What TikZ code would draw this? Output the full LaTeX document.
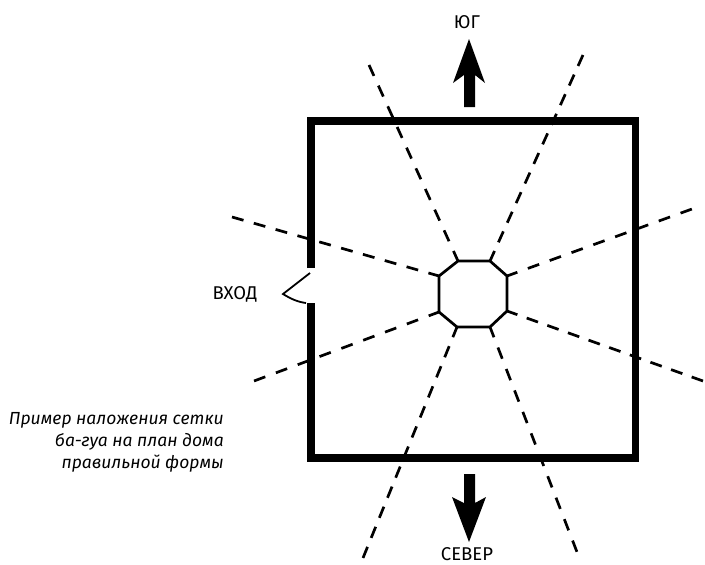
\documentclass[tikz,border=0pt]{standalone}
\usepackage{fontspec}
\setmainfont{Fira Sans}
\tikzset{
  wall/.style={line width=7.5pt},
  ray/.style={line width=2.7pt,dash phase=1pt},
  pointer/.style={fill=black,draw=none},
  label text/.style={font=\fontsize{18.5}{22}\selectfont,inner sep=0pt,anchor=base},
}
\begin{document}
\begin{tikzpicture}[x=1pt,y=-1pt]
\useasboundingbox (0,0) rectangle (705,565);
\coordinate (o1) at (458,261);
\coordinate (o2) at (490,261);
\coordinate (o3) at (507,276);
\coordinate (o4) at (507,311);
\coordinate (o5) at (490,327);
\coordinate (o6) at (457,327);
\coordinate (o7) at (439,312);
\coordinate (o8) at (439,276);
\coordinate (e1) at (369,65);
\coordinate (e2) at (583,55);
\coordinate (e3) at (692,209);
\coordinate (e4) at (703,381);
\coordinate (e5) at (577,552);
\coordinate (e6) at (363,558);
\coordinate (e7) at (254,381);
\coordinate (e8) at (232,217);
% house
\draw[wall] (311,268) -- (311,121) -- (635.5,121) -- (635.5,458) -- (311,458) -- (311,303);
% door
\draw[line width=1.8pt] (310,273) -- (283,294) .. controls (291,299) and (298,302) .. (306,303);
% ba-gua
\draw[line width=2.7pt] (o1) -- (o2) -- (o3) -- (o4) -- (o5) -- (o6) -- (o7) -- (o8) -- cycle;
\foreach \i/\gap in {1/10.7,2/9.5,3/11.2,4/9.9,5/11,6/9.67,7/11.3,8/10.7}
  \draw[ray,dash pattern=on 12pt off \gap pt] (o\i) -- (e\i);
% arrows
\fill[pointer] (469,39) -- (485,83) -- (475,75) -- (475,107) -- (464,107) -- (464,75) -- (453,83) -- cycle;
\fill[pointer] (469,542) -- (486,497) -- (475,503) -- (475,474) -- (464,474) -- (464,503) -- (452,497) -- cycle;
\node[label text] (south) at (467,28) {ЮГ};
\node[label text] (north) at (467,560.5) {СЕВЕР};
\node[label text] (entrance) at (235,299) {ВХОД};
\node[label text,anchor=north east,align=right,font=\fontsize{17.5}{22.3}\selectfont\itshape] (caption) at (224,412)
  {Пример наложения сетки\\ба-гуа на план дома\\правильной формы};
\end{tikzpicture}
\end{document}
